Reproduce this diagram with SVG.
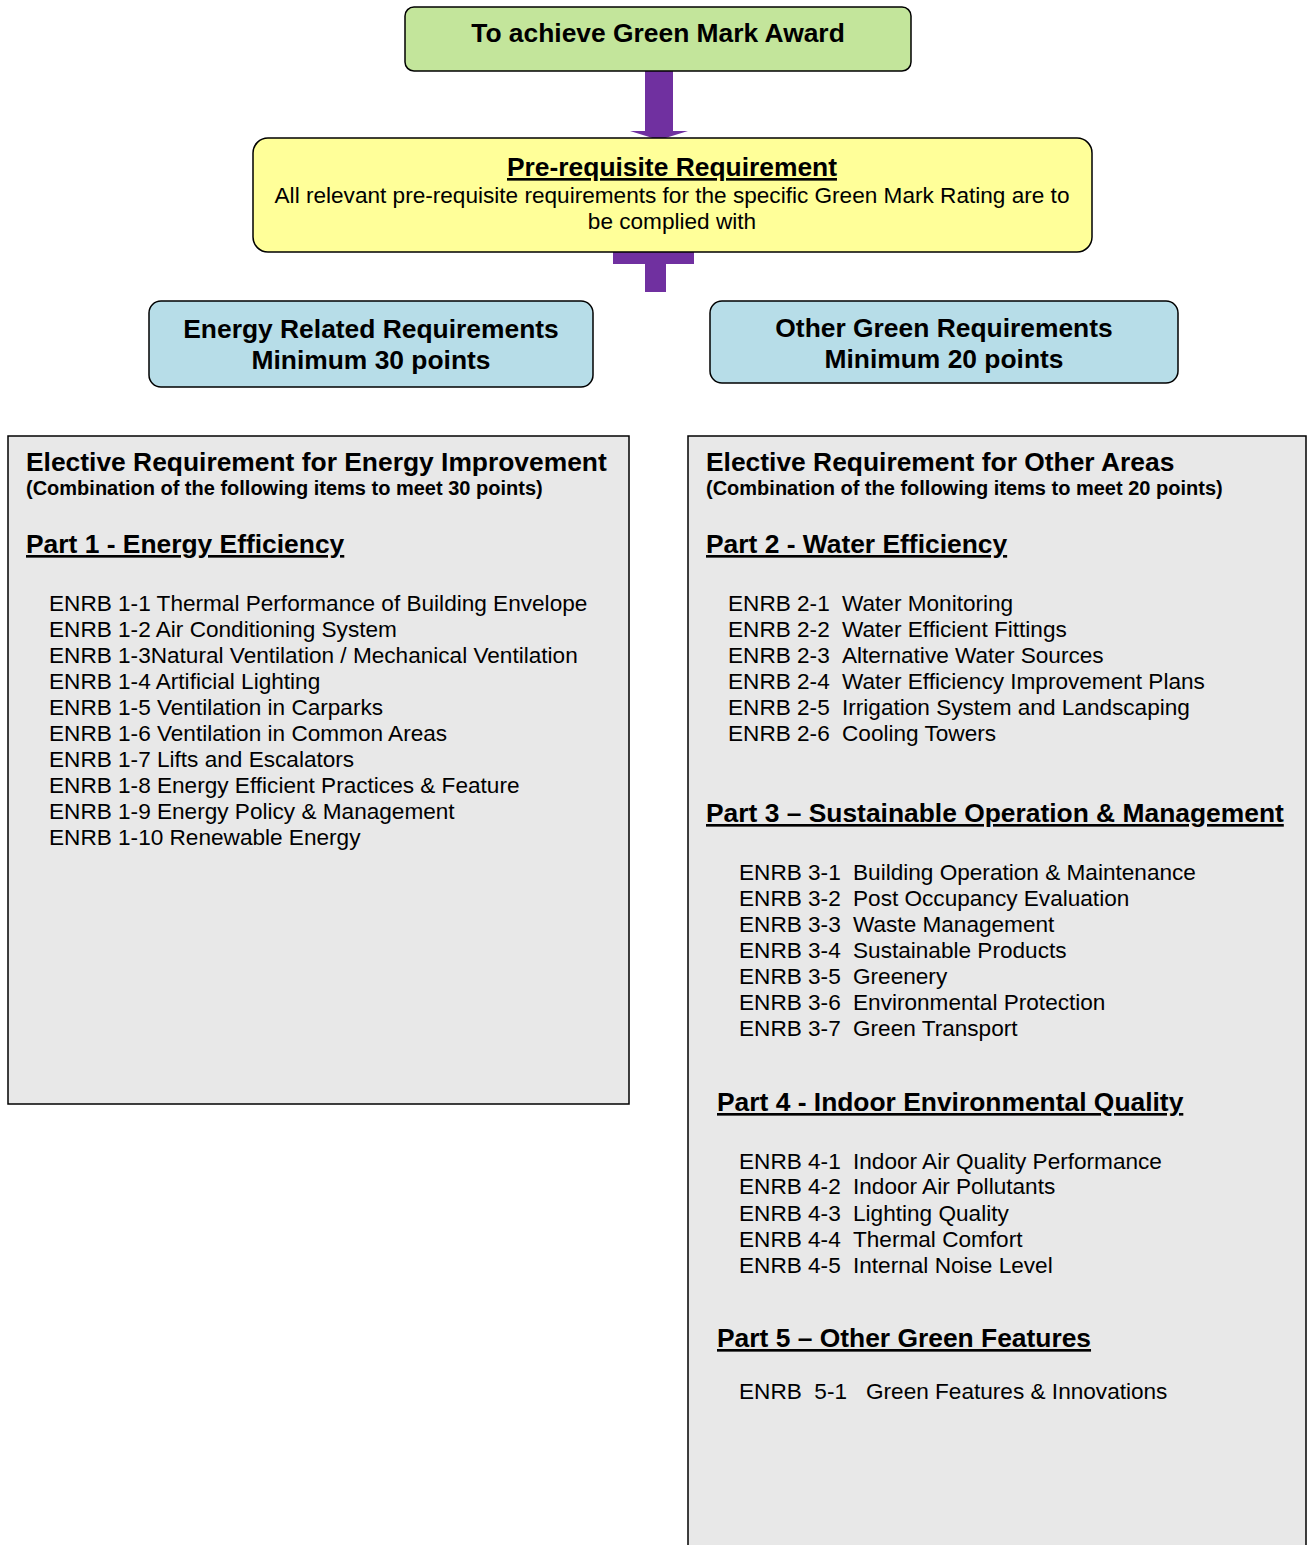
<svg xmlns="http://www.w3.org/2000/svg" width="1308" height="1545" viewBox="0 0 1308 1545">
<style>
text{font-family:"Liberation Sans",Arial,sans-serif;fill:#000}
.t{font-size:26.4px;font-weight:bold}
.h{font-size:26.4px;font-weight:bold;text-decoration:underline}
.s{font-size:20px;font-weight:bold}
.i{font-size:22.6px}
.c{text-anchor:middle}
.box{stroke:#000;stroke-width:1.5}
.panel{fill:#e8e8e8;stroke:#000;stroke-width:1.5}
.arr{fill:#7030a0}
</style>
<rect width="1308" height="1545" fill="#fff"/>
<g id="connectors">
<polygon class="arr" points="645,71 673,71 673,131 688,131 659,140 630,131 645,131"/>
<polygon class="arr" points="613,252 694,252 694,264 666,264 666,292 645,292 645,264 613,264"/>
</g>
<g id="award">
<rect class="box" x="405" y="7" width="506" height="64" rx="9" fill="#c3e59b"/>
<text class="t c" x="658" y="42">To achieve Green Mark Award</text>
</g>
<g id="prereq">
<rect class="box" x="253" y="138" width="839" height="114" rx="15" fill="#ffff99"/>
<text class="h c" x="672" y="176">Pre-requisite Requirement</text>
<text class="i c" x="672" y="203">All relevant pre-requisite requirements for the specific Green Mark Rating are to</text>
<text class="i c" x="672" y="229">be complied with</text>
</g>
<g id="energy">
<rect class="box" x="149" y="301" width="444" height="86" rx="12" fill="#b7dde8"/>
<text class="t c" x="371" y="338">Energy Related Requirements</text>
<text class="t c" x="371" y="369">Minimum 30 points</text>
</g>
<g id="other">
<rect class="box" x="710" y="301" width="468" height="82" rx="12" fill="#b7dde8"/>
<text class="t c" x="944" y="337">Other Green Requirements</text>
<text class="t c" x="944" y="368">Minimum 20 points</text>
</g>
<g id="elective-energy">
<rect class="panel" x="8" y="436" width="621" height="668"/>
<text class="t" x="26" y="471">Elective Requirement for Energy Improvement</text>
<text class="s" x="26" y="495">(Combination of the following items to meet 30 points)</text>
<text class="h" x="26" y="553">Part 1 - Energy Efficiency</text>
<text class="i" x="49" y="611">ENRB 1-1 Thermal Performance of Building Envelope</text>
<text class="i" x="49" y="637">ENRB 1-2 Air Conditioning System</text>
<text class="i" x="49" y="663">ENRB 1-3Natural Ventilation / Mechanical Ventilation</text>
<text class="i" x="49" y="689">ENRB 1-4 Artificial Lighting</text>
<text class="i" x="49" y="715">ENRB 1-5 Ventilation in Carparks</text>
<text class="i" x="49" y="741">ENRB 1-6 Ventilation in Common Areas</text>
<text class="i" x="49" y="767">ENRB 1-7 Lifts and Escalators</text>
<text class="i" x="49" y="793">ENRB 1-8 Energy Efficient Practices &amp; Feature</text>
<text class="i" x="49" y="819">ENRB 1-9 Energy Policy &amp; Management</text>
<text class="i" x="49" y="845">ENRB 1-10 Renewable Energy</text>
</g>
<g id="elective-other">
<rect class="panel" x="688" y="436" width="618" height="1120"/>
<text class="t" x="706" y="471">Elective Requirement for Other Areas</text>
<text class="s" x="706" y="495">(Combination of the following items to meet 20 points)</text>
<text class="h" x="706" y="553">Part 2 - Water Efficiency</text>
<text class="i" x="728" y="611">ENRB 2-1</text><text class="i" x="842" y="611">Water Monitoring</text>
<text class="i" x="728" y="637">ENRB 2-2</text><text class="i" x="842" y="637">Water Efficient Fittings</text>
<text class="i" x="728" y="663">ENRB 2-3</text><text class="i" x="842" y="663">Alternative Water Sources</text>
<text class="i" x="728" y="689">ENRB 2-4</text><text class="i" x="842" y="689">Water Efficiency Improvement Plans</text>
<text class="i" x="728" y="715">ENRB 2-5</text><text class="i" x="842" y="715">Irrigation System and Landscaping</text>
<text class="i" x="728" y="741">ENRB 2-6</text><text class="i" x="842" y="741">Cooling Towers</text>
<text class="h" x="706" y="822">Part 3 – Sustainable Operation &amp; Management</text>
<text class="i" x="739" y="880">ENRB 3-1</text><text class="i" x="853" y="880">Building Operation &amp; Maintenance</text>
<text class="i" x="739" y="906">ENRB 3-2</text><text class="i" x="853" y="906">Post Occupancy Evaluation</text>
<text class="i" x="739" y="932">ENRB 3-3</text><text class="i" x="853" y="932">Waste Management</text>
<text class="i" x="739" y="958">ENRB 3-4</text><text class="i" x="853" y="958">Sustainable Products</text>
<text class="i" x="739" y="984">ENRB 3-5</text><text class="i" x="853" y="984">Greenery</text>
<text class="i" x="739" y="1010">ENRB 3-6</text><text class="i" x="853" y="1010">Environmental Protection</text>
<text class="i" x="739" y="1036">ENRB 3-7</text><text class="i" x="853" y="1036">Green Transport</text>
<text class="h" x="717" y="1111">Part 4 - Indoor Environmental Quality</text>
<text class="i" x="739" y="1169">ENRB 4-1</text><text class="i" x="853" y="1169">Indoor Air Quality Performance</text>
<text class="i" x="739" y="1194">ENRB 4-2</text><text class="i" x="853" y="1194">Indoor Air Pollutants</text>
<text class="i" x="739" y="1221">ENRB 4-3</text><text class="i" x="853" y="1221">Lighting Quality</text>
<text class="i" x="739" y="1247">ENRB 4-4</text><text class="i" x="853" y="1247">Thermal Comfort</text>
<text class="i" x="739" y="1273">ENRB 4-5</text><text class="i" x="853" y="1273">Internal Noise Level</text>
<text class="h" x="717" y="1347">Part 5 – Other Green Features</text>
<text class="i" x="739" y="1399" xml:space="preserve">ENRB  5-1</text><text class="i" x="866" y="1399">Green Features &amp; Innovations</text>
</g>
</svg>
